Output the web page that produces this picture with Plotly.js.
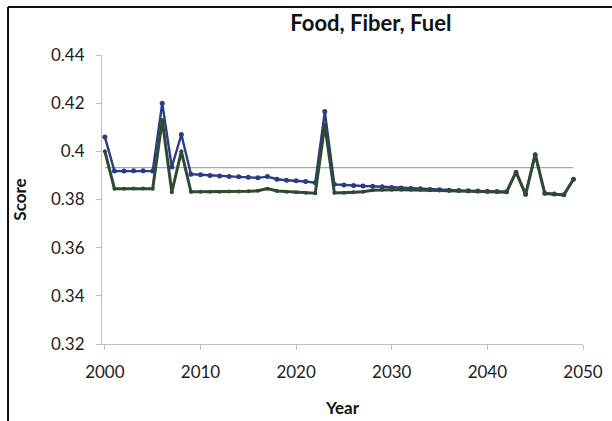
<!DOCTYPE html>
<html>
<head>
<meta charset="utf-8">
<script src="https://cdn.plot.ly/plotly-3.0.1.min.js"></script>
<style>html,body{margin:0;padding:0;background:#fff;}#chart{width:612px;height:421px;}</style>
</head>
<body>
<div id="chart"></div>
<script>
const years = [];
for (let y = 2000; y <= 2049; y++) years.push(y);

const blueScores = [
  0.406, 0.3918, 0.3918, 0.3919, 0.3919, 0.3918, 0.420, 0.3935, 0.407, 0.3905,
  0.3903, 0.3900, 0.3898, 0.3896, 0.3894, 0.3892, 0.3890, 0.3895, 0.3884, 0.3880,
  0.3878, 0.3875, 0.3870, 0.4165, 0.3863, 0.3860, 0.3858, 0.3856, 0.3855, 0.3853,
  0.3850, 0.3848, 0.3846, 0.3845, 0.3842, 0.3840, 0.3838, 0.3837, 0.3836, 0.3835,
  0.3834, 0.3833, 0.3832, 0.3912, 0.3822, 0.3985, 0.3826, 0.3823, 0.3820, 0.3884
];
const greenScores = [
  0.400, 0.3845, 0.3845, 0.3846, 0.3846, 0.3845, 0.413, 0.3830, 0.400, 0.3832,
  0.3832, 0.3832, 0.3832, 0.3833, 0.3833, 0.3834, 0.3836, 0.3845, 0.3835, 0.3832,
  0.3830, 0.3828, 0.3826, 0.4110, 0.3828, 0.3828, 0.3830, 0.3832, 0.3838, 0.3840,
  0.3840, 0.3840, 0.3840, 0.3840, 0.3838, 0.3837, 0.3836, 0.3835, 0.3834, 0.3833,
  0.3832, 0.3832, 0.3830, 0.3915, 0.3820, 0.3988, 0.3825, 0.3822, 0.3819, 0.3884
];
const refScores = years.map(() => 0.3932);

const yTicks = [0.32, 0.34, 0.36, 0.38, 0.40, 0.42, 0.44];
const yTickText = ["0.32", "0.34", "0.36", "0.38", "0.4", "0.42", "0.44"];
const xTicks = [2000, 2010, 2020, 2030, 2040, 2050];

const font = "Lato, 'Open Sans', sans-serif";

const traces = [
  {x: years, y: refScores, type: 'scatter', mode: 'lines',
   line: {color: '#a6a6a6', width: 1.2}, hoverinfo: 'skip'},
  {x: years, y: blueScores, type: 'scatter', mode: 'lines+markers',
   line: {color: '#2a3c86', width: 2.4}, marker: {color: '#2a3c86', size: 5}},
  {x: years, y: greenScores, type: 'scatter', mode: 'lines+markers',
   line: {color: '#2e4a30', width: 3}, marker: {color: '#2e4a30', size: 4}}
];

const layout = {
  width: 612, height: 421,
  paper_bgcolor: '#fff', plot_bgcolor: '#fff',
  showlegend: false,
  margin: {l: 102, r: 29, t: 55, b: 77},
  title: {text: '<b>Food, Fiber, Fuel</b>', font: {family: font, size: 22, color: '#111'},
          x: 0.606, xref: 'container', xanchor: 'center', y: 0.945, yref: 'container', yanchor: 'middle'},
  xaxis: {
    range: [1999.7, 2050], tickvals: xTicks, ticks: 'outside', ticklen: 5, tickcolor: '#bfbfbf',
    showline: true, linecolor: '#bfbfbf', linewidth: 1, showgrid: false, zeroline: false,
    ticklabelstandoff: 8,
    tickfont: {family: font, size: 17, color: '#222'},
    title: {text: '<b>Year</b>', font: {family: font, size: 17, color: '#111'}, standoff: 20}
  },
  yaxis: {
    range: [0.32, 0.44], tickvals: yTicks, ticktext: yTickText, ticks: 'outside', ticklen: 5, tickcolor: '#bfbfbf',
    showline: true, linecolor: '#bfbfbf', linewidth: 1, showgrid: false, zeroline: false,
    ticklabelstandoff: 8,
    tickfont: {family: font, size: 17, color: '#222'},
    title: {text: '<b>Score</b>', font: {family: font, size: 17, color: '#111'}, standoff: 20}
  },
  shapes: [
    {type: 'line', xref: 'paper', yref: 'paper', x0: -0.1954, x1: 1.1, y0: 1.166, y1: 1.166,
     line: {color: '#111', width: 2}},
    {type: 'line', xref: 'paper', yref: 'paper', x0: -0.1954, x1: -0.1954, y0: 1.166, y1: -0.3,
     line: {color: '#111', width: 2}}
  ]
};

Plotly.newPlot('chart', traces, layout, {displayModeBar: false, staticPlot: true});
</script>
</body>
</html>
